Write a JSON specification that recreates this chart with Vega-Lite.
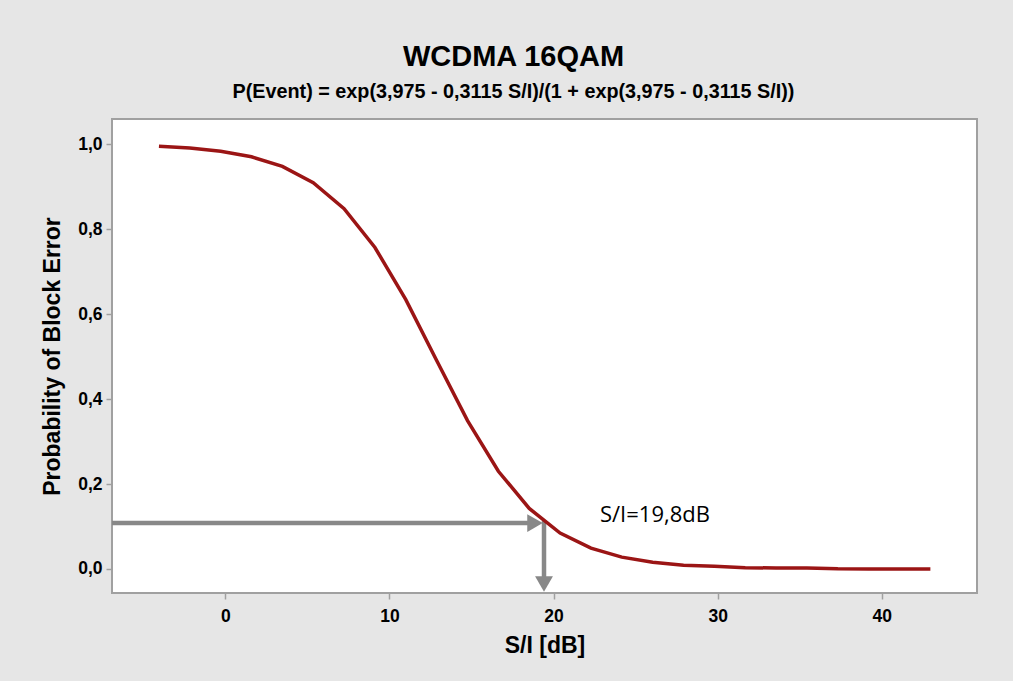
{
  "$schema": "https://vega.github.io/schema/vega-lite/v6.json",
  "autosize": {"type": "none"},
  "width": 865,
  "height": 474,
  "padding": {"left": 112, "top": 119, "right": 36, "bottom": 88},
  "background": "#E6E6E6",
  "title": {
    "text": "WCDMA 16QAM",
    "subtitle": "P(Event) = exp(3,975 - 0,3115 S/I)/(1 + exp(3,975 - 0,3115 S/I))",
    "anchor": "middle",
    "frame": "group",
    "dx": -31,
    "offset": 17,
    "font": "Liberation Sans, Arial, sans-serif",
    "fontSize": 29,
    "fontWeight": "bold",
    "color": "#000000",
    "subtitleFont": "Liberation Sans, Arial, sans-serif",
    "subtitleFontSize": 19.8,
    "subtitleFontWeight": "bold",
    "subtitleColor": "#000000",
    "subtitlePadding": 10
  },
  "config": {
    "view": {"fill": "#FFFFFF", "stroke": "#A0A0A0", "strokeWidth": 2},
    "axis": {
      "labelFont": "Liberation Sans, Arial, sans-serif",
      "labelFontSize": 17.5,
      "labelFontWeight": "bold",
      "labelColor": "#000000",
      "titleFont": "Liberation Sans, Arial, sans-serif",
      "titleFontSize": 23,
      "titleFontWeight": "bold",
      "titleColor": "#000000",
      "tickColor": "#A0A0A0",
      "tickSize": 6,
      "tickWidth": 1.5,
      "domain": false,
      "grid": false
    }
  },
  "datasets": {
    "curve": [
      {"si": -4.04, "p": 0.9947},
      {"si": -2.16, "p": 0.9905},
      {"si": -0.28, "p": 0.9831},
      {"si": 1.6, "p": 0.97},
      {"si": 3.48, "p": 0.9474},
      {"si": 5.36, "p": 0.9093},
      {"si": 7.24, "p": 0.8481},
      {"si": 9.12, "p": 0.7566},
      {"si": 11.0, "p": 0.6338},
      {"si": 12.88, "p": 0.4907},
      {"si": 14.76, "p": 0.3492},
      {"si": 16.64, "p": 0.23},
      {"si": 18.52, "p": 0.1426},
      {"si": 20.4, "p": 0.0847},
      {"si": 22.28, "p": 0.049},
      {"si": 24.16, "p": 0.0279},
      {"si": 26.04, "p": 0.0157},
      {"si": 27.92, "p": 0.0088},
      {"si": 29.8, "p": 0.0065},
      {"si": 31.68, "p": 0.0028},
      {"si": 33.56, "p": 0.0025},
      {"si": 35.44, "p": 0.0022},
      {"si": 37.32, "p": 0.0003},
      {"si": 39.2, "p": 0.0002},
      {"si": 41.08, "p": 0.0002},
      {"si": 42.96, "p": 0.0001}
    ],
    "arrows": [
      {"seg": "h", "x": -6.9, "y": 0.108},
      {"seg": "h", "x": 18.8, "y": 0.108},
      {"seg": "v", "x": 19.42, "y": 0.1135},
      {"seg": "v", "x": 19.42, "y": -0.02}
    ],
    "hhead": [{"x": 19.42, "y": 0.108}],
    "vhead": [{"x": 19.42, "y": -0.0565}],
    "label": [{"x": 22.83, "y": 0.1107, "text": "S/I=19,8dB"}]
  },
  "layer": [
    {
      "data": {"name": "arrows"},
      "mark": {"type": "line", "color": "#888888", "strokeWidth": 4.5, "strokeCap": "butt"},
      "encoding": {
        "x": {"field": "x", "type": "quantitative", "scale": {"domain": [-6.9, 45.8], "nice": false, "zero": false},
              "title": "S/I [dB]", "axis": {"values": [0, 10, 20, 30, 40], "labelPadding": 8, "titlePadding": 10}},
        "y": {"field": "y", "type": "quantitative", "scale": {"domain": [-0.0565, 1.059], "nice": false, "zero": false},
              "title": "Probability of Block Error",
              "axis": {"values": [0, 0.2, 0.4, 0.6, 0.8, 1.0], "labelPadding": 4, "titlePadding": 13,
                       "labelExpr": "replace(format(datum.value, '.1f'), '.', ',')"}},
        "detail": {"field": "seg"}
      }
    },
    {
      "data": {"name": "hhead"},
      "mark": {"type": "point", "shape": "triangle-right", "size": 320, "filled": true, "color": "#888888", "opacity": 1, "xOffset": -9},
      "encoding": {
        "x": {"field": "x", "type": "quantitative"},
        "y": {"field": "y", "type": "quantitative"}
      }
    },
    {
      "data": {"name": "vhead"},
      "mark": {"type": "point", "shape": "triangle-down", "size": 320, "filled": true, "color": "#888888", "opacity": 1, "yOffset": -9},
      "encoding": {
        "x": {"field": "x", "type": "quantitative"},
        "y": {"field": "y", "type": "quantitative"}
      }
    },
    {
      "data": {"name": "curve"},
      "mark": {"type": "line", "color": "#9B1515", "strokeWidth": 3.5},
      "encoding": {
        "x": {"field": "si", "type": "quantitative"},
        "y": {"field": "p", "type": "quantitative"}
      }
    },
    {
      "data": {"name": "label"},
      "mark": {"type": "text", "align": "left", "baseline": "alphabetic", "font": "Open Sans, DejaVu Sans, sans-serif", "fontSize": 22, "color": "#000000"},
      "encoding": {
        "x": {"field": "x", "type": "quantitative"},
        "y": {"field": "y", "type": "quantitative"},
        "text": {"field": "text"}
      }
    }
  ]
}
